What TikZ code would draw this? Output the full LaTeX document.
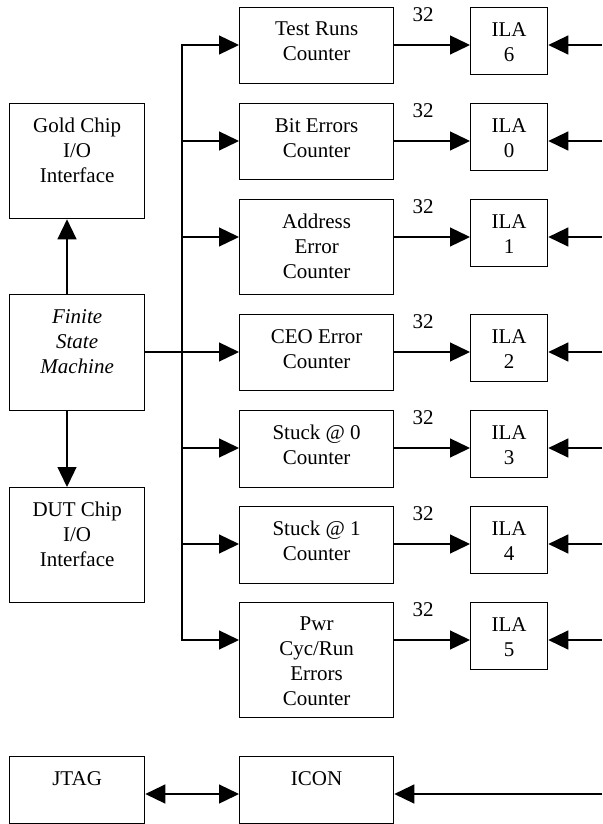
\documentclass[tikz,border=0pt]{standalone}
\usepackage{fontspec}
\setmainfont{Liberation Serif}
\usetikzlibrary{arrows.meta}
\tikzset{
  blk/.style 2 args={draw, line width=1.3pt, anchor=north west, inner sep=0pt,
    minimum width=#1, minimum height=#2},
  lbl/.style={anchor=north, align=center, inner sep=0pt, yshift=-15pt,
    font=\fontsize{21}{25}\selectfont},
  txt/.style={label={[lbl]north:{#1}}},
  num/.style={inner sep=0pt, font=\fontsize{21}{25}\selectfont},
  wire/.style={line width=1.3pt},
  sig/.style={wire, ->}
}
\begin{document}
\begin{tikzpicture}[x=1pt, y=-1pt, >={Triangle[length=20pt,width=19pt]}]
\useasboundingbox (0,0) rectangle (602,824);

% left column
\node[blk={135pt}{115pt}, txt={Gold Chip\\I/O\\Interface}] (gold) at (9,103) {};
\node[blk={135pt}{116pt}, txt={\textit{Finite}\\\textit{State}\\\textit{Machine}}] (fsm) at (9,294) {};
\node[blk={135pt}{115pt}, txt={DUT Chip\\I/O\\Interface}] (dut) at (9,487) {};
\node[blk={135pt}{67pt}, txt=JTAG] (jtag) at (9,756) {};

% counters
\node[blk={154pt}{76pt}, txt={Test Runs\\Counter}] (run) at (239,7) {};
\node[blk={154pt}{76pt}, txt={Bit Errors\\Counter}] (bit) at (239,103) {};
\node[blk={154pt}{95pt}, txt={Address\\Error\\Counter}] (adr) at (239,199) {};
\node[blk={154pt}{76pt}, txt={CEO Error\\Counter}] (ceo) at (239,314) {};
\node[blk={154pt}{77pt}, txt={Stuck @ 0\\Counter}] (st0) at (239,410) {};
\node[blk={154pt}{77pt}, txt={Stuck @ 1\\Counter}] (st1) at (239,506) {};
\node[blk={154pt}{115pt}, txt={Pwr\\Cyc/Run\\Errors\\Counter}] (pwr) at (239,602) {};
\node[blk={154pt}{67pt}, txt=ICON] (icon) at (239,756) {};

% ILA blocks
\foreach \n/\k/\y in {run/6/45, bit/0/141, adr/1/237, ceo/2/352, st0/3/448, st1/4/544, pwr/5/640}{
  \coordinate (\n-y) at (0,\y);
  \node[blk={77pt}{67pt}, txt={ILA\\\k}] (ila\k) at (470,\y-38) {};
}

\coordinate (bus) at (182,0);
\coordinate (edge) at (602,0);
\coordinate (ax) at (67,0);
\coordinate (jt-y) at (0,794);

\draw[sig] (ax |- fsm.north) -- (ax |- gold.south);
\draw[sig] (ax |- fsm.south) -- (ax |- dut.north);
\draw[sig] (fsm.east |- ceo-y) -- (ceo.west |- ceo-y);

% bus to the counters
\draw[wire, line cap=rect] (bus |- run-y) -- (bus |- pwr-y);
\foreach \n in {run, bit, adr, st0, st1, pwr}
  \draw[sig] (bus |- \n-y) -- (\n.west |- \n-y);

\foreach \n/\k in {run/6, bit/0, adr/1, ceo/2, st0/3, st1/4, pwr/5}{
  \draw[sig] (\n.east |- \n-y) -- node[num, pos=.38, yshift=30pt] (w\k) {32} (ila\k.west |- \n-y);
  \draw[sig] (edge |- \n-y) -- (ila\k.east |- \n-y);
}

\draw[wire, <->] (jtag.east |- jt-y) -- (icon.west |- jt-y);
\draw[sig] (edge |- jt-y) -- (icon.east |- jt-y);

\end{tikzpicture}
\end{document}
